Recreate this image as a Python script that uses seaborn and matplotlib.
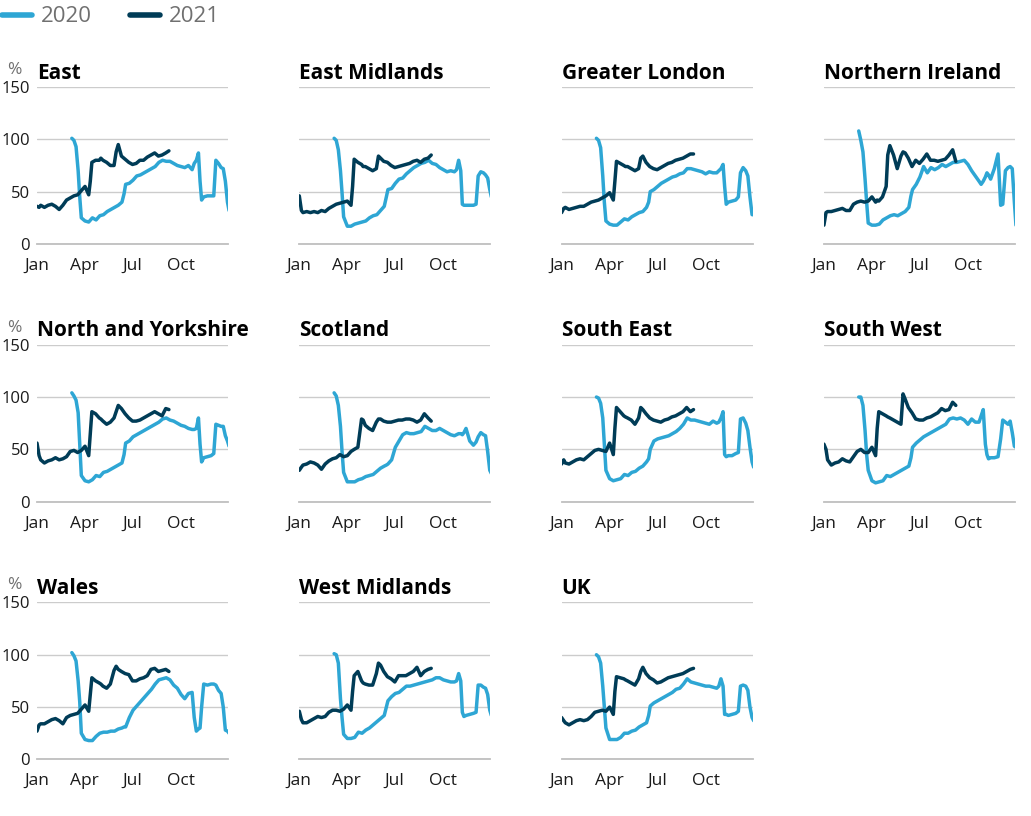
import matplotlib
matplotlib.use("Agg")
import matplotlib.pyplot as plt
from matplotlib.lines import Line2D
import pandas as pd
import seaborn as sns

# day of year for each sample
DAYS_2020 = [66, 70, 74, 78, 81, 84,
             91, 98, 105, 112, 119, 126, 133, 140, 147, 154, 161,
             165, 168,
             175, 182, 189, 196, 203, 210, 217, 224, 231, 238, 245, 252, 259, 266, 273, 280, 287,
             294, 298, 302, 306, 309, 312, 316,
             323, 330, 335, 339, 344, 349, 353, 357, 361, 364]
DAYS_2021 = [0, 4, 7, 14, 21, 28, 35, 42, 49, 56,
             63, 70, 77, 84, 91, 98, 101, 104, 111, 118,
             121, 125, 132, 139, 146, 150, 154, 160, 167, 174,
             181, 188, 195, 202, 209, 216, 223, 230, 237, 244,
             250]

EAST_2020 = [101, 99, 93, 70, 45, 25,
             22, 21, 25, 23, 27, 28, 31, 33, 35, 37, 40,
             48, 57,
             58, 61, 65, 66, 68, 70, 72, 74, 78, 80, 79, 79, 77, 75, 74, 73, 75,
             71, 77, 80, 87, 60, 42, 45,
             46, 46, 46, 80, 77, 73, 72, 60, 40, 32]
EAST_2021 = [36, 35, 37, 35, 37, 38, 36, 33, 37, 42,
             44, 46, 47, 51, 55, 47, 60, 78, 80, 80,
             82, 80, 78, 75, 75, 88, 95, 84, 81, 78,
             76, 77, 80, 80, 83, 85, 87, 84, 85, 87,
             89]

EMID_2020 = [101, 99, 90, 70, 49, 26,
             17, 17, 19, 20, 21, 22, 25, 27, 28, 32, 36,
             45, 52,
             53, 58, 62, 63, 67, 70, 73, 75, 77, 78, 80, 77, 76, 73, 71, 69, 70,
             69, 71, 80, 70, 38, 37, 37,
             37, 37, 38, 65, 69, 68, 66, 63, 52, 45]
EMID_2021 = [46, 32, 30, 31, 30, 31, 30, 32, 31, 34,
             36, 38, 39, 40, 41, 37, 55, 81, 78, 76,
             74, 74, 72, 70, 72, 84, 82, 79, 78, 75,
             73, 74, 75, 76, 77, 79, 80, 78, 81, 82,
             85]

LON_2020 = [101, 99, 92, 65, 40, 22,
            19, 18, 18, 21, 24, 23, 26, 28, 30, 31, 35,
            40, 50,
            52, 55, 58, 60, 62, 64, 65, 67, 68, 72, 72, 71, 70, 69, 67, 69, 68,
            68, 70, 72, 76, 55, 38, 40,
            41, 42, 45, 68, 73, 70, 65, 45, 28, 28]
LON_2021 = [30, 34, 35, 33, 34, 35, 36, 36, 38, 40,
            41, 42, 44, 46, 49, 42, 60, 79, 77, 75,
            74, 74, 72, 70, 72, 82, 84, 78, 74, 72,
            71, 73, 75, 77, 78, 80, 81, 82, 84, 86,
            86]

NI_2020 = [108, 99, 88, 62, 40, 20,
           18, 18, 19, 23, 25, 27, 28, 27, 29, 31, 35,
           46, 52,
           57, 64, 74, 68, 73, 71, 73, 76, 74, 76, 78, 78, 79, 80, 76, 70, 65,
           60, 57, 60, 64, 68, 66, 62,
           72, 86, 37, 38, 70, 73, 74, 72, 40, 18]
NI_2021 = [18, 30, 31, 31, 32, 33, 34, 32, 32, 38,
           40, 41, 40, 41, 45, 40, 42, 41, 45, 55,
           85, 94, 85, 72, 84, 88, 87, 82, 74, 80,
           77, 81, 86, 80, 80, 79, 80, 81, 85, 90,
           79]

NY_2020 = [104, 101, 97, 85, 55, 25,
           20, 19, 21, 25, 24, 28, 29, 31, 33, 35, 37,
           45, 56,
           58, 62, 64, 66, 68, 70, 72, 74, 76, 79, 80, 78, 77, 75, 73, 72, 70,
           69, 69, 70, 80, 55, 38, 42,
           43, 44, 46, 74, 73, 72, 72, 63, 58, 53]
NY_2021 = [56, 44, 40, 37, 39, 40, 42, 40, 41, 43,
           48, 49, 47, 49, 53, 44, 65, 86, 84, 80,
           79, 77, 74, 76, 80, 86, 92, 89, 84, 80,
           77, 77, 78, 80, 82, 84, 86, 84, 82, 89,
           88]

SCOT_2020 = [104, 101, 92, 72, 48, 28,
             19, 19, 19, 21, 22, 24, 25, 26, 29, 32, 34,
             35, 36,
             40, 52, 58, 64, 66, 65, 65, 66, 67, 72, 70, 68, 68, 70, 68, 66, 64,
             63, 64, 65, 65, 64, 66, 70,
             58, 54, 57, 62, 66, 64, 63, 48, 30, 27]
SCOT_2021 = [30, 33, 35, 36, 38, 37, 35, 31, 36, 39,
             41, 42, 45, 43, 44, 48, 49, 50, 52, 79,
             78, 73, 70, 68, 76, 79, 79, 77, 76, 76,
             77, 78, 78, 79, 79, 78, 76, 78, 84, 80,
             77]

SE_2020 = [100, 99, 94, 80, 55, 30,
           22, 20, 21, 22, 26, 25, 28, 29, 32, 34, 38,
           41, 50,
           58, 60, 61, 62, 63, 65, 67, 70, 74, 80, 78, 78, 77, 76, 75, 74, 77,
           75, 76, 80, 86, 45, 43, 44,
           44, 46, 47, 79, 80, 75, 68, 52, 38, 33]
SE_2021 = [36, 40, 37, 36, 38, 40, 41, 40, 43, 46,
           49, 50, 49, 48, 56, 45, 70, 90, 86, 82,
           81, 80, 78, 74, 80, 90, 88, 84, 80, 78,
           77, 76, 78, 79, 81, 82, 84, 86, 90, 86,
           88]

SW_2020 = [100, 100, 92, 68, 45, 30,
           20, 18, 19, 20, 25, 24, 26, 28, 30, 32, 34,
           42, 52,
           56, 59, 62, 64, 66, 68, 70, 72, 74, 79, 80, 79, 80, 78, 74, 79, 76,
           76, 82, 88, 55, 45, 41, 42,
           42, 43, 60, 78, 76, 74, 77, 66, 53, 52]
SW_2021 = [55, 50, 40, 35, 37, 38, 41, 39, 38, 43,
           48, 50, 47, 47, 52, 44, 70, 86, 84, 82,
           81, 80, 78, 76, 74, 103, 98, 90, 85, 79,
           78, 78, 80, 81, 83, 85, 89, 87, 88, 95,
           92]

WAL_2020 = [102, 99, 94, 75, 55, 25,
            19, 18, 18, 22, 25, 26, 26, 27, 27, 29, 30,
            31, 31,
            40, 47, 51, 55, 59, 63, 67, 72, 76, 77, 78, 76, 71, 68, 62, 58, 63,
            64, 40, 27, 29, 30, 50, 72,
            71, 72, 72, 71, 66, 63, 50, 28, 27, 25]
WAL_2021 = [27, 33, 34, 34, 36, 38, 39, 37, 34, 40,
            42, 43, 44, 48, 52, 46, 62, 78, 75, 73,
            72, 70, 68, 72, 85, 89, 86, 84, 82, 81,
            75, 75, 77, 78, 80, 86, 87, 84, 85, 86,
            84]

WMID_2020 = [101, 100, 92, 58, 40, 24,
             20, 20, 21, 26, 25, 28, 30, 33, 36, 39, 42,
             50, 56,
             60, 63, 64, 67, 70, 70, 71, 72, 73, 74, 75, 76, 78, 78, 76, 75, 74,
             74, 75, 82, 75, 45, 41, 42,
             43, 44, 45, 71, 71, 69, 68, 62, 47, 42]
WMID_2021 = [46, 38, 35, 35, 37, 39, 41, 40, 41, 45,
             47, 47, 46, 48, 52, 47, 65, 80, 84, 75,
             73, 72, 71, 71, 82, 92, 90, 84, 79, 77,
             74, 80, 80, 80, 82, 84, 88, 80, 84, 86,
             87]

UK_2020 = [100, 98, 92, 70, 50, 30,
           19, 19, 19, 21, 25, 25, 27, 28, 31, 33, 35,
           42, 51,
           54, 56, 58, 60, 62, 64, 67, 68, 72, 77, 74, 73, 72, 71, 70, 70, 69,
           68, 70, 77, 70, 43, 43, 42,
           43, 44, 46, 70, 71, 70, 66, 50, 40, 37]
UK_2021 = [40, 37, 35, 33, 35, 37, 38, 37, 38, 41,
           45, 46, 47, 46, 50, 43, 65, 79, 78, 77,
           76, 75, 73, 71, 77, 84, 88, 82, 78, 76,
           73, 74, 76, 78, 79, 80, 81, 82, 84, 86,
           87]

REGIONS = ["East", "East Midlands", "Greater London", "Northern Ireland",
           "North and Yorkshire", "Scotland", "South East", "South West",
           "Wales", "West Midlands", "UK"]
SERIES = {
    "East": (EAST_2020, EAST_2021),
    "East Midlands": (EMID_2020, EMID_2021),
    "Greater London": (LON_2020, LON_2021),
    "Northern Ireland": (NI_2020, NI_2021),
    "North and Yorkshire": (NY_2020, NY_2021),
    "Scotland": (SCOT_2020, SCOT_2021),
    "South East": (SE_2020, SE_2021),
    "South West": (SW_2020, SW_2021),
    "Wales": (WAL_2020, WAL_2021),
    "West Midlands": (WMID_2020, WMID_2021),
    "UK": (UK_2020, UK_2021),
}
MONTH_DAYS = [0, 90, 181, 273]
MONTH_LABELS = ["Jan", "Apr", "Jul", "Oct"]

C20 = "#2ea6d4"
C21 = "#003c57"
PALETTE = {"2020": C20, "2021": C21}
GRID = "#cccccc"

sns.set_style("white")
plt.rcParams["font.family"] = ["Open Sans", "DejaVu Sans"]

W, H = 1031, 816
fig = plt.figure(figsize=(W / 100, H / 100), dpi=100)

for i, name in enumerate(REGIONS):
    r, c = divmod(i, 4)
    left = 37 + c * 262.3
    top = 87 + r * 257.7
    ax = fig.add_axes([left / W, 1 - (top + 157) / H, 191 / W, 157 / H])
    v20, v21 = SERIES[name]
    df = pd.DataFrame({
        "day": DAYS_2020 + DAYS_2021,
        "value": v20 + v21,
        "year": ["2020"] * len(v20) + ["2021"] * len(v21),
    })
    sns.lineplot(data=df, x="day", y="value", hue="year", palette=PALETTE,
                 linewidth=2.5, ax=ax, legend=False, estimator=None, sort=False)
    ax.set_xlim(0, 362)
    ax.set_ylim(0, 150)
    ax.set_xticks(MONTH_DAYS)
    ax.set_xticklabels(MONTH_LABELS)
    ax.set_yticks([0, 50, 100, 150])
    ax.grid(axis="y", color=GRID, lw=1)
    ax.set_axisbelow(True)
    for s in ["top", "right", "left"]:
        ax.spines[s].set_visible(False)
    ax.spines["bottom"].set_color("#bfbfbf")
    ax.spines["bottom"].set_linewidth(1.3)
    ax.tick_params(axis="x", length=6, width=1.3, color="#bfbfbf",
                   labelsize=12.5, labelcolor="#1a1a1a", pad=4)
    ax.tick_params(axis="y", length=0, labelsize=12, labelcolor="#1a1a1a", pad=5)
    if c != 0:
        ax.set_yticklabels([])
    else:
        fig.text(7 / W, 1 - (top - 17) / H, "%", fontsize=12.5, color="#707070",
                 ha="left", va="center")
    ax.set_xlabel("")
    ax.set_ylabel("")
    ax.set_title(name, loc="left", fontsize=15, fontweight="bold",
                 color="#000000", pad=6)

handles = [Line2D([], [], color=C20, lw=4), Line2D([], [], color=C21, lw=4)]
fig.legend(handles, ["2020", "2021"], loc="upper left", bbox_to_anchor=(0, 0.995),
           ncol=2, frameon=False, fontsize=16, labelcolor="#707070",
           handlelength=1.35, handletextpad=0.4, columnspacing=1.7,
           borderpad=0.1, borderaxespad=0)

fig.savefig("out.png", dpi=100)
plt.close(fig)
